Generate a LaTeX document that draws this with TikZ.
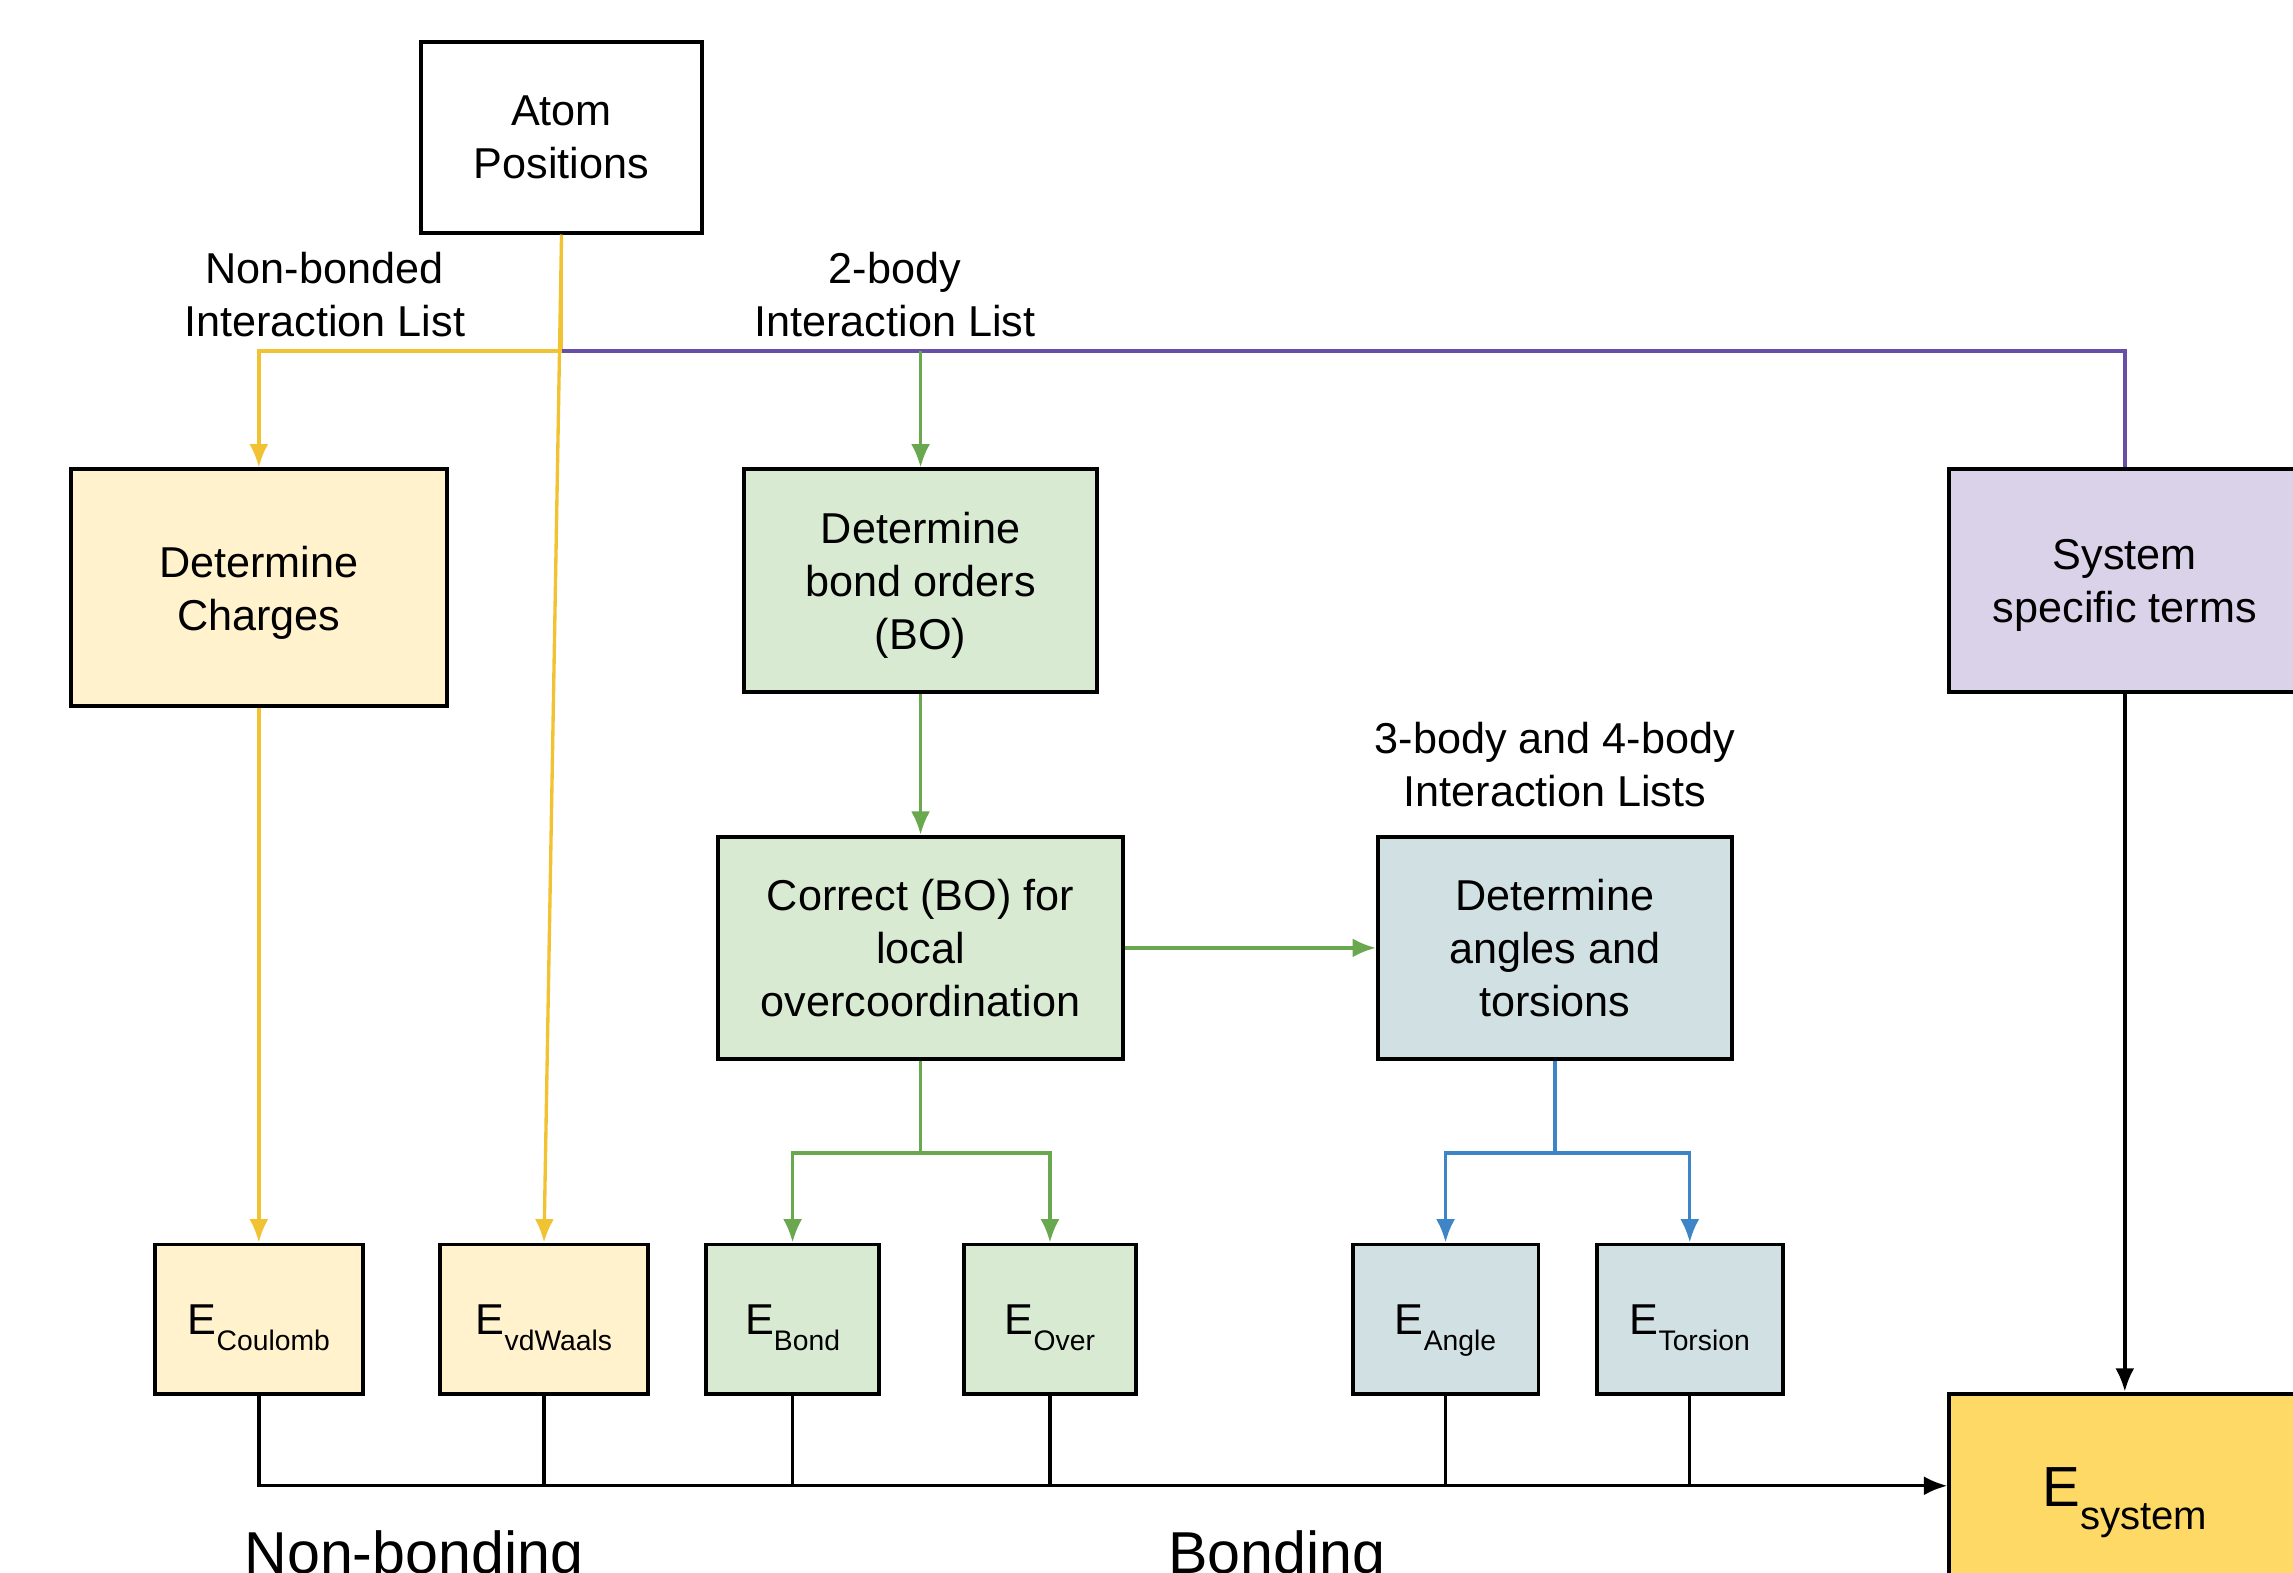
\documentclass[tikz,border=0pt]{standalone}
\usepackage{fontspec}
\setmainfont{Liberation Sans}
\usetikzlibrary{arrows.meta,positioning,calc}
\definecolor{lineYellow}{HTML}{F1C232}
\definecolor{lineGreen}{HTML}{6AA84F}
\definecolor{linePurple}{HTML}{674EA7}
\definecolor{lineBlue}{HTML}{3D85C6}
\definecolor{fillYellow}{HTML}{FFF2CC}
\definecolor{fillGreen}{HTML}{D9EAD3}
\definecolor{fillPurple}{HTML}{D9D2E9}
\definecolor{fillBlue}{HTML}{D0E0E3}
\definecolor{fillGold}{HTML}{FFD966}
\newcommand{\Eterm}[1]{E\raisebox{-3.2pt}{\fontsize{5.5}{6}\selectfont #1}}
\newcommand{\Ebigterm}[1]{{\fontsize{11}{13}\selectfont E}\raisebox{-4.5pt}{\fontsize{7.8}{9}\selectfont #1}}
\tikzstyle{box} = [rectangle, draw=black, line width=0.75pt, align=center, inner sep=0pt, text depth=0pt]
\tikzstyle{ebox} = [box, text height=6pt, minimum height=1.02cm]
\tikzstyle{arrow} = [-{Latex[length=0.16cm,width=0.13cm]}]

\begin{document}
\begin{tikzpicture}[
            x=0.01cm, y=-0.01cm,
            every node/.style={font=\fontsize{8.4}{10.3}\selectfont},
            conn/.style={line width=0.65pt},
            yline/.style={conn, draw=lineYellow},
            gline/.style={conn, draw=lineGreen},
            pline/.style={conn, draw=linePurple},
            bline/.style={conn, draw=lineBlue},
            kline/.style={conn, draw=black},
            lbl/.style={align=center, inner sep=0pt, text depth=0pt},
            group/.style={inner sep=0pt, font=\fontsize{11.5}{13}\selectfont}
        ]
            \useasboundingbox (0,0) rectangle (1568,1075);
            \clip (0,0) rectangle (1568,1075);

            % Nodes
            \node (atom) [box, minimum width=1.92cm, minimum height=1.30cm] at (384,94) {Atom\\Positions};
            \node (charges) [box, fill=fillYellow, minimum width=2.57cm, minimum height=1.62cm] at (177,402) {Determine\\Charges};
            \node (bondorder) [box, fill=fillGreen, minimum width=2.41cm, minimum height=1.52cm] at (629.5,397) {Determine\\bond orders\\(BO)};
            \node (system) [box, fill=fillPurple, minimum width=2.40cm, minimum height=1.52cm] at (1453,397) {System\\specific terms};
            \node (correct) [box, fill=fillGreen, minimum width=2.77cm, minimum height=1.52cm, below=0.964cm of bondorder] {Correct (BO) for\\local\\overcoordination};
            \node (angles) [box, fill=fillBlue, minimum width=2.42cm, minimum height=1.52cm, right=1.714cm of correct] {Determine\\angles and\\torsions};

            \node (ecoul) [ebox, fill=fillYellow, minimum width=1.42cm] at (177,902) {\Eterm{Coulomb}};
            \node (evdw) [ebox, fill=fillYellow, minimum width=1.42cm] at (372,902) {\Eterm{vdWaals}};
            \node (ebond) [ebox, fill=fillGreen, minimum width=1.18cm] at (542,902) {\Eterm{Bond}};
            \node (eover) [ebox, fill=fillGreen, minimum width=1.18cm] at (718,902) {\Eterm{Over}};
            \node (eangle) [ebox, fill=fillBlue, minimum width=1.27cm] at (988.5,902) {\Eterm{Angle}};
            \node (etors) [ebox, fill=fillBlue, minimum width=1.27cm] at (1155.5,902) {\Eterm{Torsion}};
            \node (esys) [box, fill=fillGold, text height=8pt, minimum width=2.40cm, minimum height=1.26cm] at (1453,1016) {\Ebigterm{system}};

            % Labels
            \node (nblist) [lbl, anchor=south] at (222,231) {Non-bonded\\Interaction List};
            \node (twolist) [lbl, anchor=south] at (612,231) {2-body\\Interaction List};
            \node (multilist) [lbl, above=0.185cm of angles] {3-body and 4-body\\Interaction Lists};
            \node (nonbonding) [group, anchor=base] at (283,1076) {Non-bonding};
            \node (bonding) [group, anchor=base] at (873,1076) {Bonding};

            \coordinate (split) at (384,240);
            \coordinate (gfork) at ($(correct.south)+(0,63)$);
            \coordinate (bfork) at ($(angles.south)+(0,63)$);

            % Arrows
            \draw [yline] (atom.south) -- (split);
            \draw [yline, arrow] (split) -| (charges.north);
            \draw [yline, arrow] (atom.south) -- (evdw.north);
            \draw [yline, arrow] (charges.south) -- (ecoul.north);
            \draw [pline] (split) -| (system.north);
            \draw [gline, arrow] (split -| bondorder.north) -- (bondorder.north);
            \draw [gline, arrow] (bondorder) -- (correct);
            \draw [gline, arrow] (correct) -- (angles);
            \draw [gline] (correct.south) -- (gfork);
            \draw [gline, arrow] (gfork) -| (ebond.north);
            \draw [gline, arrow] (gfork) -| (eover.north);
            \draw [bline] (angles.south) -- (bfork);
            \draw [bline, arrow] (bfork) -| (eangle.north);
            \draw [bline, arrow] (bfork) -| (etors.north);
            \draw [kline, arrow] (system) -- (esys);
            \draw [kline, arrow] (ecoul.south) |- (esys.west);
            \draw [kline] (evdw.south) -- (evdw.south |- esys.west);
            \draw [kline] (ebond.south) -- (ebond.south |- esys.west);
            \draw [kline] (eover.south) -- (eover.south |- esys.west);
            \draw [kline] (eangle.south) -- (eangle.south |- esys.west);
            \draw [kline] (etors.south) -- (etors.south |- esys.west);
        \end{tikzpicture}
\end{document}
